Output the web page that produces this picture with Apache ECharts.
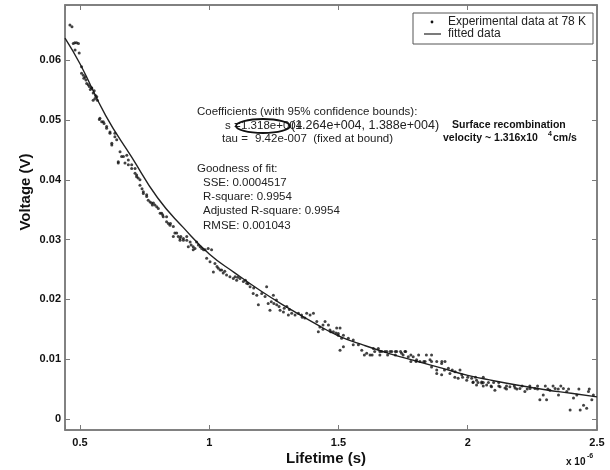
<!DOCTYPE html>
<html>
<head>
<meta charset="utf-8">
<script src="https://cdn.jsdelivr.net/npm/echarts@6/dist/echarts.min.js"></script>
<style>html,body{margin:0;padding:0;background:#fff}#c{width:610px;height:470px}</style>
</head>
<body>
<div id="c"></div>
<script>
// Experimental data (x in units of 1e-6 s, y in V)
const expX = [
0.461,0.469,0.474,0.480,0.481,0.487,0.494,0.497,0.506,0.506,0.513,0.515,0.520,0.523,0.526,0.532,0.536,0.540,0.545,0.545,0.551,0.555,0.558,0.560,0.565,0.567,0.551,
0.575,0.577,0.584,0.590,0.593,0.603,0.603,0.616,0.616,0.623,0.623,0.635,0.635,0.642,0.648,0.648,0.655,0.661,0.668,0.674,0.681,0.687,0.687,0.700,0.700,
0.713,0.713,0.719,0.719,0.725,0.732,0.732,0.740,0.745,0.745,0.758,0.758,0.764,0.771,0.777,0.780,0.784,0.790,0.797,0.803,0.810,0.816,0.820,0.822,0.835,0.835,0.842,0.848,0.850,
0.861,0.861,0.867,0.874,0.880,0.887,0.887,0.890,0.900,0.900,0.913,0.913,0.919,0.926,0.930,0.938,0.938,0.945,0.951,
0.958,0.965,0.971,0.978,0.984,0.990,0.996,1.003,1.009,1.016,1.022,1.030,1.035,1.042,1.048,1.054,1.060,1.067,1.080,1.093,1.100,1.106,1.110,1.119,1.132,1.140,1.145,1.150,1.158,1.170,1.172,
1.184,1.190,1.203,1.216,1.222,1.228,1.235,1.240,1.248,1.250,1.260,1.261,1.270,1.274,1.287,1.290,1.300,1.306,1.310,1.319,1.332,1.345,1.357,1.360,1.370,1.377,1.390,1.403,
1.416,1.422,1.428,1.440,1.440,1.448,1.461,1.467,1.470,1.480,1.490,1.493,1.499,1.512,
1.506,1.499,1.519,1.506,1.519,1.538,1.557,1.557,1.577,1.590,1.609,1.622,1.635,1.654,1.667,1.687,1.706,1.725,1.744,1.757,1.770,1.789,1.802,1.815,
1.835,1.854,1.860,1.880,1.899,1.912,1.899,1.925,1.931,1.951,1.963,1.977,1.996,2.015,2.034,2.054,
1.640,1.660,1.680,1.700,1.720,1.740,1.760,
1.600,1.630,1.660,1.690,1.720,1.750,1.780,1.810,1.840,1.860,
1.780,1.800,1.830,1.860,1.880,1.900,
1.880,1.910,1.940,1.970,
1.950,1.980,2.000,2.030,2.060,
2.021,2.034,2.054,2.073,2.092,2.105,2.125,2.144,2.163,2.183,2.202,2.221,2.241,2.260,2.279,2.292,2.305,2.318,2.338,2.351,2.370,2.383,2.396,2.409,
2.422,2.435,2.448,2.460,2.467,2.480,2.486,
2.020,2.040,2.060,2.080,2.100,2.120,
2.060,2.090,2.120,2.150,2.180,2.210,2.240,2.270,2.300,2.330,2.360,
2.150,2.190,2.230,2.270,2.310,2.350,2.390,2.430,2.470
];
const expY = [
0.0659,0.0656,0.0628,0.0629,0.0617,0.0629,0.0628,0.0612,0.0589,0.0578,0.0575,0.0570,0.0572,0.0567,0.0561,0.0559,0.0556,0.0551,0.0554,0.0553,0.0545,0.0549,0.0536,0.0541,0.0539,0.0533,0.0533,
0.0501,0.0503,0.0497,0.0497,0.0494,0.0489,0.0486,0.0480,0.0478,0.0458,0.0461,0.0478,0.0472,0.0467,0.0428,0.0430,0.0447,0.0439,0.0439,0.0428,0.0441,0.0433,0.0425,0.0425,0.0419,
0.0419,0.0411,0.0408,0.0405,0.0403,0.0400,0.0391,0.0385,0.0377,0.0380,0.0375,0.0372,0.0366,0.0363,0.0361,0.0358,0.0361,0.0358,0.0355,0.0352,0.0344,0.0344,0.0341,0.0338,0.0338,0.0330,0.0327,0.0324,0.0327,
0.0322,0.0305,0.0311,0.0311,0.0305,0.0299,0.0302,0.0305,0.0302,0.0299,0.0299,0.0305,0.0288,0.0296,0.0291,0.0283,0.0288,0.0285,0.0296,
0.0291,0.0288,0.0285,0.0283,0.0283,0.0269,0.0285,0.0263,0.0283,0.0246,0.0260,0.0255,0.0252,0.0249,0.0249,0.0244,0.0247,0.0241,0.0238,0.0235,0.0238,0.0232,0.0237,0.0235,0.0230,0.0232,0.0227,0.0226,0.0221,0.0210,0.0219,
0.0207,0.0191,0.0210,0.0205,0.0221,0.0193,0.0182,0.0196,0.0207,0.0193,0.0199,0.0191,0.0188,0.0182,0.0179,0.0185,0.0188,0.0174,0.0183,0.0177,0.0174,0.0177,0.0174,0.0170,0.0169,0.0177,0.0174,0.0177,
0.0163,0.0146,0.0154,0.0157,0.0150,0.0163,0.0157,0.0149,0.0146,0.0146,0.0144,0.0152,0.0140,0.0135,
0.0152,0.0143,0.0140,0.0115,0.0121,0.0135,0.0132,0.0124,0.0124,0.0115,0.0110,0.0107,0.0118,0.0118,0.0113,0.0113,0.0113,0.0113,0.0110,0.0113,0.0104,0.0104,0.0099,0.0096,
0.0096,0.0099,0.0087,0.0076,0.0093,0.0096,0.0074,0.0085,0.0076,0.0079,0.0068,0.0074,0.0065,0.0068,0.0065,0.0062,
0.0113,0.0113,0.0113,0.0113,0.0113,0.0113,0.0113,
0.0107,0.0107,0.0107,0.0107,0.0107,0.0107,0.0107,0.0107,0.0107,0.0107,
0.0096,0.0096,0.0096,0.0096,0.0096,0.0096,
0.0082,0.0082,0.0082,0.0082,
0.0070,0.0070,0.0070,0.0070,0.0070,
0.0062,0.0057,0.0060,0.0057,0.0054,0.0048,0.0054,0.0052,0.0054,0.0052,0.0051,0.0046,0.0051,0.0051,0.0032,0.0040,0.0032,0.0048,0.0051,0.0040,0.0051,0.0046,0.0015,0.0035,
0.0040,0.0015,0.0023,0.0018,0.0046,0.0032,0.0040,
0.0061,0.0061,0.0061,0.0061,0.0061,0.0061,
0.0055,0.0055,0.0055,0.0055,0.0055,0.0055,0.0055,0.0055,0.0055,0.0055,0.0055,
0.0050,0.0050,0.0050,0.0050,0.0050,0.0050,0.0050,0.0050,0.0050
];
// Fitted curve
const fitX = [0.442,0.5,0.6,0.7,0.8,0.9,1.0,1.1,1.2,1.3,1.4,1.5,1.6,1.7,1.8,1.9,2.0,2.1,2.2,2.3,2.4,2.5];
const fitY = [0.0637,0.0594,0.0507,0.0438,0.0370,0.0320,0.0276,0.0244,0.0214,0.0187,0.0162,0.0139,0.0123,0.0109,0.0097,0.0085,0.0073,0.0064,0.0056,0.0049,0.0043,0.0037];

const xTickLabels = ['0.5','1','1.5','2','2.5'];
const yTickLabels = ['0','0.01','0.02','0.03','0.04','0.05','0.06'];
const legendNames = ['Experimental data at 78 K','fitted data'];

const X_MIN = 0.442, X_MAX = 2.5, Y_MIN = -0.00184, Y_MAX = 0.06923;
const FONT = 'Liberation Sans, Arial, sans-serif';
const AX = '#7a7a7a';
const TF = '11.5px ' + FONT;

function xFmt(v){ const s = String(Math.round(v*10)/10); return xTickLabels.indexOf(s) >= 0 && Math.abs(v*2-Math.round(v*2))<1e-6 ? s : ''; }
function yFmt(v){ const s = String(Math.round(v*100)/100); return yTickLabels.indexOf(s) >= 0 && Math.abs(v*100-Math.round(v*100))<1e-6 ? s : ''; }

const axisCommon = {
  type: 'value',
  axisLine: {show: true, onZero: false, lineStyle: {color: AX, width: 1.5}},
  axisTick: {show: true, inside: true, length: 5, lineStyle: {color: AX, width: 1}},
  splitLine: {show: false}
};

function txt(x, y, s, font, fill) {
  return {type: 'text', x: x, y: y, style: {text: s, font: font || TF, fill: fill || '#222', verticalAlign: 'middle'}, z: 11};
}

const chart = echarts.init(document.getElementById('c'), null, {renderer: 'canvas'});
const option = {
  animation: false,
  backgroundColor: '#fff',
  grid: {left: 65, right: 13, top: 5, bottom: 40, show: true, borderColor: AX, borderWidth: 1.5},
  xAxis: [
    Object.assign({}, axisCommon, {min: X_MIN, max: X_MAX, position: 'bottom',
      axisLabel: {formatter: xFmt, color: '#111', fontWeight: 'bold', fontSize: 11, fontFamily: FONT, margin: 7}}),
    Object.assign({}, axisCommon, {min: X_MIN, max: X_MAX, position: 'top', axisLabel: {show: false}})
  ],
  yAxis: [
    Object.assign({}, axisCommon, {min: Y_MIN, max: Y_MAX, position: 'left',
      axisLabel: {formatter: yFmt, color: '#111', fontWeight: 'bold', fontSize: 11, fontFamily: FONT, margin: 4}}),
    Object.assign({}, axisCommon, {min: Y_MIN, max: Y_MAX, position: 'right', axisLabel: {show: false}})
  ],
  series: [
    {name: legendNames[1], type: 'line', data: fitX.map((x,i)=>[x, fitY[i]]), smooth: true, showSymbol: false,
     lineStyle: {color: '#222', width: 1.4}, z: 2},
    {name: legendNames[0], type: 'scatter', data: expX.map((x,i)=>[x, expY[i]]), symbol: 'circle', symbolSize: 3,
     itemStyle: {color: '#141414'}, z: 3}
  ],
  graphic: [
    // legend
    {type: 'rect', shape: {x: 413, y: 13, width: 180, height: 31}, style: {fill: '#fff', stroke: '#555', lineWidth: 1}, z: 10},
    {type: 'circle', shape: {cx: 432, cy: 22, r: 1.4}, style: {fill: '#111'}, z: 11},
    {type: 'line', shape: {x1: 424, y1: 34, x2: 441, y2: 34}, style: {stroke: '#222', lineWidth: 1.2}, z: 11},
    txt(448, 22, legendNames[0], '12px ' + FONT),
    txt(448, 34, legendNames[1], '12px ' + FONT),
    // axis titles
    {type: 'text', x: 26, y: 192, rotation: Math.PI/2, style: {text: 'Voltage (V)', font: 'bold 15px ' + FONT, fill: '#111', align: 'center', verticalAlign: 'middle'}},
    {type: 'text', x: 326, y: 459, style: {text: 'Lifetime (s)', font: 'bold 15px ' + FONT, fill: '#111', align: 'center', verticalAlign: 'middle'}},
    txt(566, 462, 'x 10', 'bold 10px ' + FONT, '#111'),
    txt(587, 456, '-6', 'bold 7px ' + FONT, '#111'),
    // annotations
    txt(197, 112, 'Coefficients (with 95% confidence bounds):'),
    txt(225, 126, 's ='),
    txt(241, 126, '1.318e+004'),
    {type: 'ellipse', shape: {cx: 263, cy: 126, rx: 27, ry: 7}, style: {fill: 'none', stroke: '#111', lineWidth: 1.8}, z: 11},
    txt(291, 126, '(1.264e+004, 1.388e+004)', '12.5px ' + FONT),
    txt(222, 139, 'tau ='),
    txt(255, 139, '9.42e-007  (fixed at bound)'),
    txt(452, 125, 'Surface recombination', 'bold 10.5px ' + FONT, '#111'),
    txt(443, 138, 'velocity ~ 1.316x10', 'bold 10.5px ' + FONT, '#111'),
    txt(548, 134, '4', 'bold 7px ' + FONT, '#111'),
    txt(553, 138, 'cm/s', 'bold 10.5px ' + FONT, '#111'),
    txt(197, 169, 'Goodness of fit:'),
    txt(203, 183, 'SSE: 0.0004517'),
    txt(203, 197, 'R-square: 0.9954'),
    txt(203, 211, 'Adjusted R-square: 0.9954'),
    txt(203, 226, 'RMSE: 0.001043')
  ]
};
chart.setOption(option);
</script>
</body>
</html>
